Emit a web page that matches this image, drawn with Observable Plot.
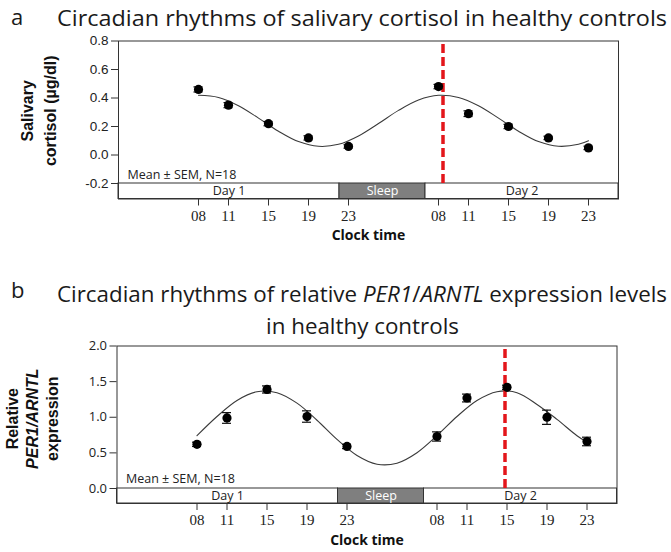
<!DOCTYPE html>
<html><head><meta charset="utf-8">
<script src="https://cdn.jsdelivr.net/npm/d3@7"></script>
<script src="https://cdn.jsdelivr.net/npm/@observablehq/plot@0.6"></script>
<style>
body{margin:0;background:#fff;}
#root{position:relative;width:671px;height:552px;overflow:hidden;background:#fff;}
.t{position:absolute;white-space:nowrap;font-family:"Open Sans","Noto Sans",sans-serif;color:#1a1a1a;transform-origin:0 50%;}
.plot{position:absolute;left:0;}
</style></head><body><div id="root"></div>
<script>
// ---- data ----
const clockHours = [8, 11, 15, 19, 23, 32, 35, 39, 43, 47];
const clockLabels = ["08", "11", "15", "19", "23", "08", "11", "15", "19", "23"];
const cortisolMean = [0.46, 0.35, 0.22, 0.12, 0.06, 0.48, 0.29, 0.20, 0.12, 0.05];
const cortisolSEM = [0.018, 0.018, 0.015, 0.015, 0.012, 0.015, 0.02, 0.015, 0.012, 0.012];
const perMean = [0.62, 0.99, 1.39, 1.01, 0.59, 0.73, 1.27, 1.42, 1.00, 0.66];
const perSEM = [0.03, 0.075, 0.05, 0.08, 0.03, 0.065, 0.055, 0.03, 0.10, 0.06];
const fitHours = [8, 10, 12, 14, 16, 18, 20, 22, 24, 26, 28, 30, 32, 34, 36, 38, 40, 42, 44, 46, 47];
const cortisolFit = [0.419, 0.404, 0.346, 0.259, 0.167, 0.094, 0.061, 0.075, 0.134, 0.221, 0.313, 0.386, 0.419, 0.404, 0.346, 0.259, 0.167, 0.094, 0.061, 0.075, 0.100];
const perFit = [0.742, 1.011, 1.236, 1.359, 1.345, 1.198, 0.958, 0.689, 0.464, 0.341, 0.355, 0.502, 0.742, 1.011, 1.236, 1.359, 1.345, 1.18, 0.97, 0.74, 0.65];
const barLabels = ["Day 1", "Sleep", "Day 2"];
const barStart = [0, 22.1, 30.7];
const barEnd = [22.1, 30.7, 50];
const cortisolAcrophase = 32.45;
const perAcrophase = 38.8;
const cortisolTicks = [-0.2, 0, 0.2, 0.4, 0.6, 0.8];
const perTicks = [0, 0.5, 1, 1.5, 2];
const noteText = "Mean \u00B1 SEM, N=18";
const xTitle = "Clock time";

// ---- drawing ----
const root = document.getElementById("root");

function panel(o) {
  const pts = clockHours.map((h, i) => ({h, v: o.mean[i], e: o.sem[i]}));
  const fit = fitHours.map((h, i) => ({h, v: o.fit[i]}));
  const bars = barLabels.map((l, i) => ({l, a: barStart[i], b: barEnd[i]}));
  const low = o.yTicks[0], high = o.yTicks[o.yTicks.length - 1];
  const titleMarks = o.yTitle.map(t => Plot.text([t.text], {
    text: d => d, frameAnchor: "left", y: o.yTitleY, dx: t.dx, rotate: -90,
    textAnchor: "middle", lineAnchor: "middle",
    fontWeight: "bold", fontSize: 16, fontStyle: t.italic ? "italic" : "normal",
    fontFamily: "Liberation Sans, Arial, sans-serif", fill: "#111"
  }));
  const svg = Plot.plot({
    width: 671, height: o.height,
    marginLeft: o.left, marginRight: 671 - o.right, marginTop: o.top, marginBottom: o.bottom,
    x: {domain: [0, 50]},
    y: {domain: [o.yBarLow, high]},
    style: {background: "white", overflow: "visible", color: "#222"},
    marks: [
      Plot.rect(bars, {x1: "a", x2: "b", y1: o.yBarLow, y2: low,
        fill: d => d.l === "Sleep" ? "#7f7f7f" : "white", stroke: "#333", strokeWidth: 1}),
      Plot.text(bars, {x: d => (d.a + d.b) / 2, y: (o.yBarLow + low) / 2, text: "l",
        fill: d => d.l === "Sleep" ? "white" : "#222", fontSize: 12.5,
        fontFamily: "Open Sans, Noto Sans, sans-serif"}),
      Plot.frame({stroke: "#333", strokeWidth: 1}),
      Plot.axisY({ticks: o.yTicks, tickSize: 7, tickPadding: 3, label: null,
        tickFormat: d => d.toFixed(1), fontSize: o.yFontSize, fontFamily: o.yFont, stroke: "#333"}),
      Plot.axisX({ticks: clockHours, tickSize: 7, tickPadding: 4, label: null,
        tickFormat: d => clockLabels[clockHours.indexOf(d)], fontSize: 15,
        fontFamily: "Liberation Serif, Times New Roman, serif", stroke: "#333"}),
      Plot.text([noteText], {text: d => d, x: 0.9, y: o.noteY, textAnchor: "start",
        fontSize: 12.5, fontFamily: "Open Sans, Noto Sans, sans-serif", fill: "#222"}),
      Plot.text([xTitle], {text: d => d, frameAnchor: "bottom", dy: 41, fontWeight: "bold",
        fontSize: 14, fontFamily: "Open Sans, Noto Sans, sans-serif", fill: "#111"}),
      ...titleMarks,
      Plot.line(fit, {x: "h", y: "v", curve: "catmull-rom", stroke: "#3a3a3a", strokeWidth: 1.1}),
      Plot.ruleX([o.acro], {y1: low, y2: high, stroke: "#e3161b", strokeWidth: 3.5, strokeDasharray: "9,4"}),
      Plot.ruleX(pts, {x: "h", y1: d => d.v - d.e, y2: d => d.v + d.e, stroke: "#111", strokeWidth: 1.2}),
      Plot.ruleY(pts, {y: d => d.v + d.e, x1: d => d.h - 0.45, x2: d => d.h + 0.45, stroke: "#111", strokeWidth: 1.2}),
      Plot.ruleY(pts, {y: d => d.v - d.e, x1: d => d.h - 0.45, x2: d => d.h + 0.45, stroke: "#111", strokeWidth: 1.2}),
      Plot.dot(pts, {x: "h", y: "v", r: 4.6, fill: "#000", stroke: "none"})
    ]
  });
  svg.classList.add("plot");
  svg.style.top = o.svgTop + "px";
  root.appendChild(svg);
}

// Panel a: 0.8 at y=40.5, -0.2 at y=183, bar bottom 198.5
const aPx = (183 - 40.5) / 1.0;
panel({
  mean: cortisolMean, sem: cortisolSEM, fit: cortisolFit, yTicks: cortisolTicks,
  yBarLow: -0.2 - 15.5 / aPx, acro: cortisolAcrophase,
  svgTop: 0, height: 252, top: 40.5, bottom: 252 - 198.5, left: 118, right: 618,
  yFont: "Liberation Sans, Arial, sans-serif", yFontSize: 13.5,
  noteY: -0.137, yTitleY: 0.31,
  yTitle: [{text: "Salivary", dx: -91}, {text: "cortisol (\u00B5g/dl)", dx: -68}]
});

// Panel b: 2.0 at y=345.5, 0.0 at y=488, bar bottom 503 (svg top 300)
const bPx = (488 - 345.5) / 2.0;
panel({
  mean: perMean, sem: perSEM, fit: perFit, yTicks: perTicks,
  yBarLow: -15 / bPx, acro: perAcrophase,
  svgTop: 300, height: 252, top: 45.5, bottom: 252 - 203, left: 116.5, right: 616.5,
  yFont: "Open Sans, Noto Sans, sans-serif", yFontSize: 13,
  noteY: 0.13, yTitleY: 0.98,
  yTitle: [{text: "Relative", dx: -104}, {text: "PER1/ARNTL", dx: -84, italic: true}, {text: "expression", dx: -64}]
});

// ---- titles (HTML, above the SVGs) ----
function addText(html, left, centerY, size, targetWidth, scaleOverride) {
  const d = document.createElement("div");
  d.className = "t";
  d.innerHTML = html;
  d.style.fontSize = size + "px";
  d.style.lineHeight = size + "px";
  d.style.top = (centerY - size / 2) + "px";
  d.style.left = left + "px";
  root.appendChild(d);
  let s = 1;
  if (targetWidth) { s = targetWidth / d.getBoundingClientRect().width; }
  if (scaleOverride) s = scaleOverride;
  d.style.transform = `scaleX(${s})`;
  return {el: d, scale: s};
}
addText("a", 11, 16, 22);
addText("Circadian rhythms of salivary cortisol in healthy controls", 57, 17, 22, 610);
addText("b", 11, 289, 22);
const l1 = addText("Circadian rhythms of relative <i>PER1</i>/<i>ARNTL</i> expression levels", 57, 293, 22, 610);
const l2 = addText("in healthy controls", 0, 325, 22, null, l1.scale);
const w2 = l2.el.getBoundingClientRect().width;
l2.el.style.left = (362 - w2 / 2) + "px";
</script>
</body></html>
